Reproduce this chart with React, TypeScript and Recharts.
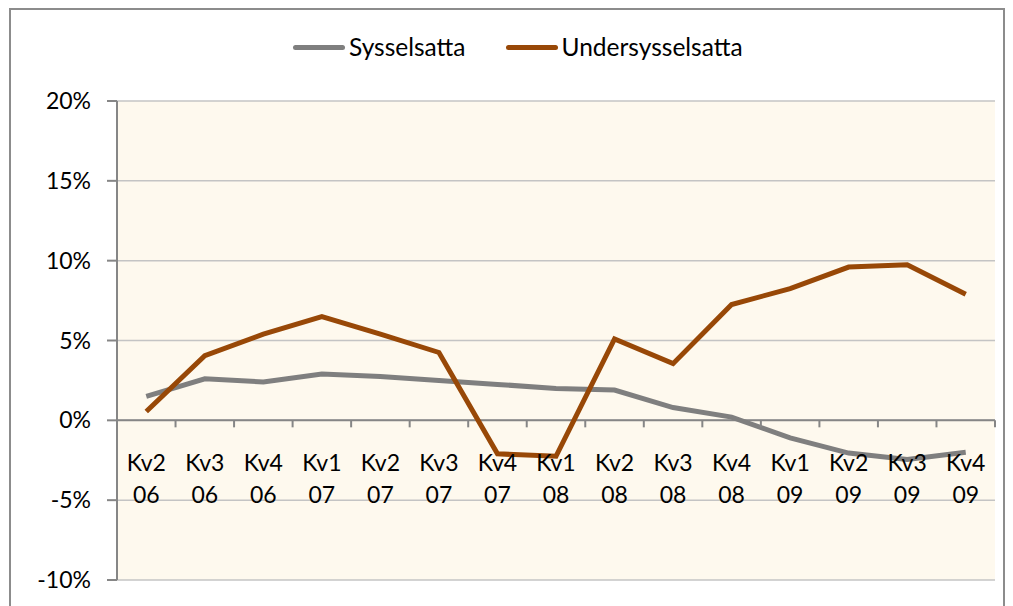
import { LineChart, Line, XAxis, YAxis, CartesianGrid, ReferenceLine } from 'recharts';

const quarters = ['Kv2', 'Kv3', 'Kv4', 'Kv1', 'Kv2', 'Kv3', 'Kv4', 'Kv1', 'Kv2', 'Kv3', 'Kv4', 'Kv1', 'Kv2', 'Kv3', 'Kv4'];
const years = ['06', '06', '06', '07', '07', '07', '07', '08', '08', '08', '08', '09', '09', '09', '09'];
const sysselsatta = [1.5, 2.6, 2.4, 2.9, 2.75, 2.5, 2.25, 2.0, 1.9, 0.8, 0.2, -1.1, -2.05, -2.45, -2.0];
const undersysselsatta = [0.55, 4.05, 5.4, 6.5, 5.4, 4.25, -2.1, -2.25, 5.1, 3.55, 7.25, 8.25, 9.6, 9.75, 7.9];
const yTicks = [-10, -5, 0, 5, 10, 15, 20];

const data = quarters.map((q, i) => ({
  label: `${q} ${years[i]}`,
  q,
  y: years[i],
  Sysselsatta: sysselsatta[i],
  Undersysselsatta: undersysselsatta[i]
}));

const W = 1013;
const H = 606;
const margin = { top: 101, right: 18, bottom: 0, left: 0 };
const xAxisHeight = 26;
const yAxisWidth = 117;
const plotTop = margin.top;
const plotHeight = H - margin.top - margin.bottom - xAxisHeight;
const plotWidth = W - margin.left - margin.right - yAxisWidth;
const band = plotWidth / data.length;
const zeroY = plotTop + (plotHeight * 20) / 30;

const font = 'Lato, "Open Sans", sans-serif';
const fontSize = 23;
const gray = '#7f7f7f';
const brown = '#984807';

function CategoryTick(props: any) {
  const { x, index } = props;
  const d = data[index];
  if (!d) return null;
  return (
    <g>
      <line x1={x + band / 2} x2={x + band / 2} y1={zeroY} y2={zeroY + 7} stroke='#868686' strokeWidth={2} />
      <text x={x} y={zeroY + 51} textAnchor='middle' fontSize={fontSize} fill='#000' fontFamily={font}>
        {d.q}
      </text>
      <text x={x} y={zeroY + 83} textAnchor='middle' fontSize={fontSize} fill='#000' fontFamily={font}>
        {d.y}
      </text>
    </g>
  );
}

function LegendItem({ color, text, gap }: { color: string; text: string; gap: number }) {
  return (
    <div style={{ display: 'flex', alignItems: 'center', marginRight: gap }}>
      <div style={{ width: 52, height: 5, borderRadius: 3, background: color, marginRight: 4 }} />
      <span>{text}</span>
    </div>
  );
}

export default function App() {
  return (
    <div style={{ position: 'absolute', left: 0, top: 0, width: W, height: H, overflow: 'hidden', background: '#fff' }}>
      <div
        style={{
          position: 'absolute',
          left: 9,
          top: 8,
          width: 996,
          height: 620,
          border: '2px solid #8c8c8c',
          boxSizing: 'border-box'
        }}
      />
      <div
        style={{
          position: 'absolute',
          top: 32,
          left: 293,
          display: 'flex',
          fontFamily: font,
          fontSize: 24.5,
          lineHeight: '30px',
          color: '#000'
        }}
      >
        <LegendItem color={gray} text='Sysselsatta' gap={40} />
        <LegendItem color={brown} text='Undersysselsatta' gap={0} />
      </div>
      <LineChart width={W} height={H} data={data} margin={margin} style={{ position: 'absolute', left: 0, top: 0 }}>
        <CartesianGrid vertical={false} stroke='#c4c4c4' strokeWidth={1.5} fill='#fef9ee' />
        <YAxis
          width={yAxisWidth}
          domain={[-10, 20]}
          ticks={yTicks}
          interval={0}
          tickFormatter={(v: number) => `${v}%`}
          axisLine={{ stroke: '#868686', strokeWidth: 2 }}
          tickLine={{ stroke: '#868686', strokeWidth: 2 }}
          tickSize={10}
          tickMargin={16}
          tick={{ fontSize, fill: '#000', fontFamily: font }}
        />
        <XAxis
          dataKey='label'
          height={xAxisHeight}
          axisLine={false}
          tickLine={false}
          interval={0}
          padding={{ left: band / 2, right: band / 2 }}
          tick={<CategoryTick />}
        />
        <ReferenceLine y={0} stroke='#868686' strokeWidth={2} />
        <Line dataKey='Sysselsatta' stroke={gray} strokeWidth={5} dot={false} type='linear' isAnimationActive={false} />
        <Line dataKey='Undersysselsatta' stroke={brown} strokeWidth={5} dot={false} type='linear' isAnimationActive={false} />
      </LineChart>
    </div>
  );
}
